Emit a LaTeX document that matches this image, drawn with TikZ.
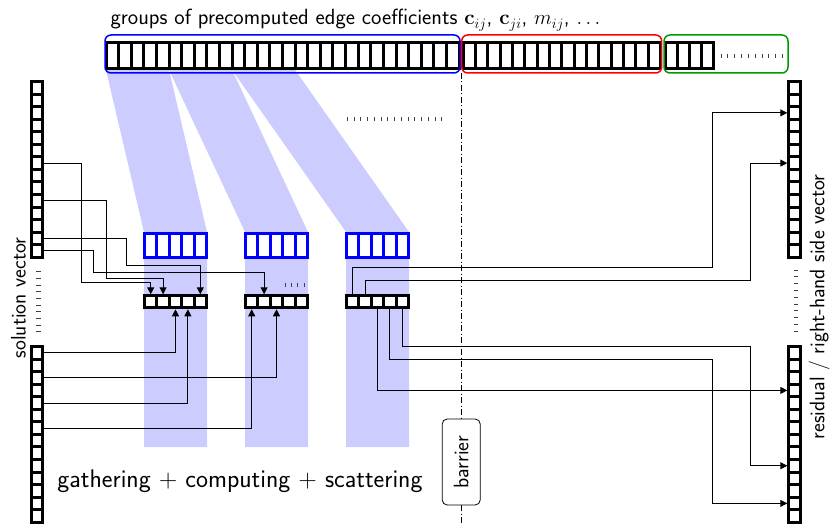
\documentclass[tikz,border=0pt]{standalone}
\usetikzlibrary{arrows.meta}
\begin{document}
\begin{tikzpicture}[x=1pt,y=-1pt,
  every node/.style={font=\sffamily},
  tcell/.style={draw, line width=3pt, inner sep=0pt, minimum height=26pt, fill=white},
  vcell/.style={draw, line width=3pt, inner sep=0pt, minimum width=11.4pt, minimum height=12.55pt, fill=white},
  bcell/.style={draw=blue, line width=3pt, inner sep=0pt, minimum width=12.4pt, minimum height=24pt, fill=white},
  scell/.style={draw, line width=3pt, inner sep=0pt, minimum width=12.4pt, minimum height=12pt, fill=white},
  conn/.style={line width=0.9pt, -{Triangle[length=7pt,width=7pt]}},
  band/.style={fill=blue!20, draw=none},
  tick/.style={line width=1pt, black!75},
  grp/.style={line width=1.5pt, rounded corners=6pt},
  lbl/.style={font=\sffamily\fontsize{21}{25}\selectfont},
]
\useasboundingbox (0,0) rectangle (834,524);

% shaded bands
\fill[band] (106,70) -- (169.05,70) -- (207,232) -- (207,447) -- (144,447) -- (144,232) -- cycle;
\fill[band] (169.05,70) -- (232.1,70) -- (308,232) -- (308,447) -- (245,447) -- (245,232) -- cycle;
\fill[band] (232.1,70) -- (295.15,70) -- (409,232) -- (409,447) -- (346,447) -- (346,232) -- cycle;

% barrier line
\draw[line width=0.8pt, dash pattern=on 6pt off 2.5pt on 1pt off 2.5pt] (461.7,73) -- (461.7,524);

% top bar cells
\foreach \i in {1,...,28} \node[tcell, minimum width=12.61pt] (tb\i) at ({106+(\i-0.5)*12.61},56) {};
\foreach \i in {1,...,16} \node[tcell, minimum width=12.34pt] (tr\i) at ({463+(\i-0.5)*12.34},56) {};
\foreach \i in {1,...,4} \node[tcell, minimum width=11.9pt] (tg\i) at ({665.5+(\i-0.5)*11.9},56) {};

% group frames
\draw[grp, blue] (105,35) rectangle (460,73);
\draw[grp, red] (461.7,35) rectangle (661.7,73);
\draw[grp, green!60!black] (664,35) rectangle (788,73);

% blue boxes and small vectors
\foreach \g/\x in {1/144.5, 2/245.5, 3/346.5} {
  \foreach \i in {1,...,5} {
    \node[bcell] (b\g\i) at ({\x+(\i-0.5)*12.4},245) {};
    \node[scell] (v\g\i) at ({\x+(\i-0.5)*12.4},301.8) {};
  }
}

% long vectors
\foreach \i in {1,...,14} {
  \node[vcell] (L\i) at (37.2,{81.5+(\i-0.5)*12.55}) {};
  \node[vcell] (B\i) at (37.2,{346.5+(\i-0.5)*12.55}) {};
  \node[vcell] (R\i) at (794.5,{81.5+(\i-0.5)*12.55}) {};
  \node[vcell] (S\i) at (794.5,{346.5+(\i-0.5)*12.55}) {};
}

% gathering
\draw[conn] (L7.east) -| (81,282) -| (v11.north);
\draw[conn] (L10.east) -| (106,278) -| (v12.north);
\draw[conn] (L13.east) -| (126.7,265) -| (v15.north);
\draw[conn] (L14.east) -| (93.3,272.5) -| (v22.north);
\draw[conn] (B1.east) -| (v13.south);
\draw[conn] (B3.east) -| (v23.south);
\draw[conn] (B5.east) -| (v14.south);
\draw[conn] (B7.east) -| (v21.south);

% scattering
\draw[conn] (v31.north) |- (712.5,267.5) |- (R3.west);
\draw[conn] (v32.north) |- (750,280) |- (R7.west);
\draw[conn] (v35.south) |- (750,346) |- (S10.west);
\draw[conn] (v34.south) |- (712.5,359) |- (S13.west);
\draw[conn] (v33.south) |- (S4.west);

% ticks (dots)
\foreach \i in {0,...,9} \draw[tick] ({721+\i*6.85},53.7) -- ++(0,4);
\foreach \i in {0,...,14} \draw[tick] ({347.3+\i*6.75},117) -- ++(0,4);
\foreach \i in {0,...,3} \draw[tick] ({285+\i*6.4},283.3) -- ++(0,4);
\foreach \i in {0,...,9} \draw[tick] (36,{271.7+\i*6.67}) -- ++(4.5,0);
\foreach \i in {0,...,9} \draw[tick] (793.5,{270+\i*6.8}) -- ++(4.5,0);

% labels
\node[font=\sffamily\fontsize{22}{26}\selectfont, anchor=base] (title) at (355.5,25) {groups of precomputed edge coefficients $\mathbf{c}_{ij}$, $\mathbf{c}_{ji}$, $m_{ij}$, $\ldots$};
\node[font=\sffamily\fontsize{25.5}{30}\selectfont, anchor=base] (gcs) at (240,487) {gathering + computing + scattering};
\node[lbl, rotate=90] (sol) at (18.5,298) {solution vector};
\node[lbl, rotate=90] (res) at (819,307) {residual / right-hand side vector};
\node[lbl, draw, line width=0.8pt, rounded corners=5pt, fill=white, rotate=90, minimum width=86pt, minimum height=38pt, inner sep=0pt] (bar) at (461.2,462) {barrier};
\end{tikzpicture}
\end{document}
